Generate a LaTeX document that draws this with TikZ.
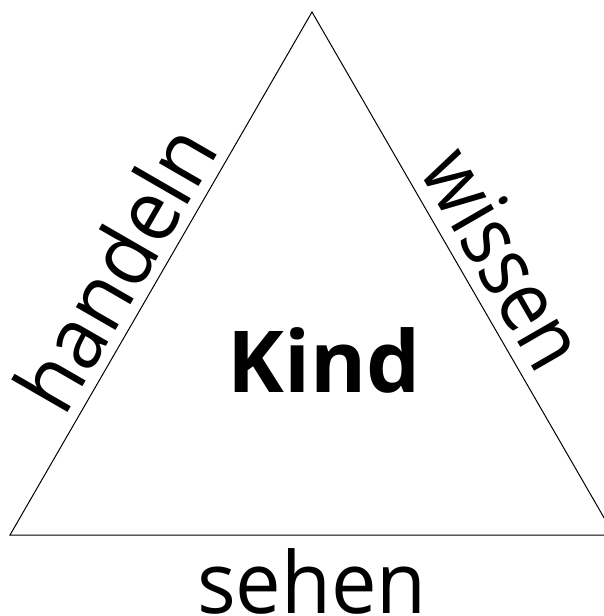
\documentclass[tikz,border=0pt]{standalone}
\usepackage{fontspec}
\setmainfont{Open Sans}
\begin{document}
\begin{tikzpicture}[x=1pt,y=-1pt,
  lab/.style={font=\fontsize{85.5}{90}\selectfont, inner sep=0pt, anchor=base, text=black},
  boldlab/.style={font=\fontsize{85.5}{90}\selectfont\bfseries, inner sep=0pt, anchor=base, text=black},
  triline/.style={line width=1pt, draw=black}]
\useasboundingbox (0,0) rectangle (604,616);
\coordinate (apex) at (312,12);
\coordinate (bl) at (10,535);
\coordinate (br) at (614,535);
\begin{scope}
\clip (0,0) rectangle (604,616);
\draw[triline] (apex) -- (bl) -- (br) -- cycle;
\end{scope}
\node[lab, rotate=60, xscale=0.95] (handeln) at (142.4,284) {handeln};
\node[lab, rotate=-60, xscale=0.88] (wissen) at (478.2,273.8) {wissen};
\node[lab, xscale=0.95] (sehen) at (312,613) {sehen};
\node[boldlab] (kind) at (324,392) {Kind};
\end{tikzpicture}
\end{document}
